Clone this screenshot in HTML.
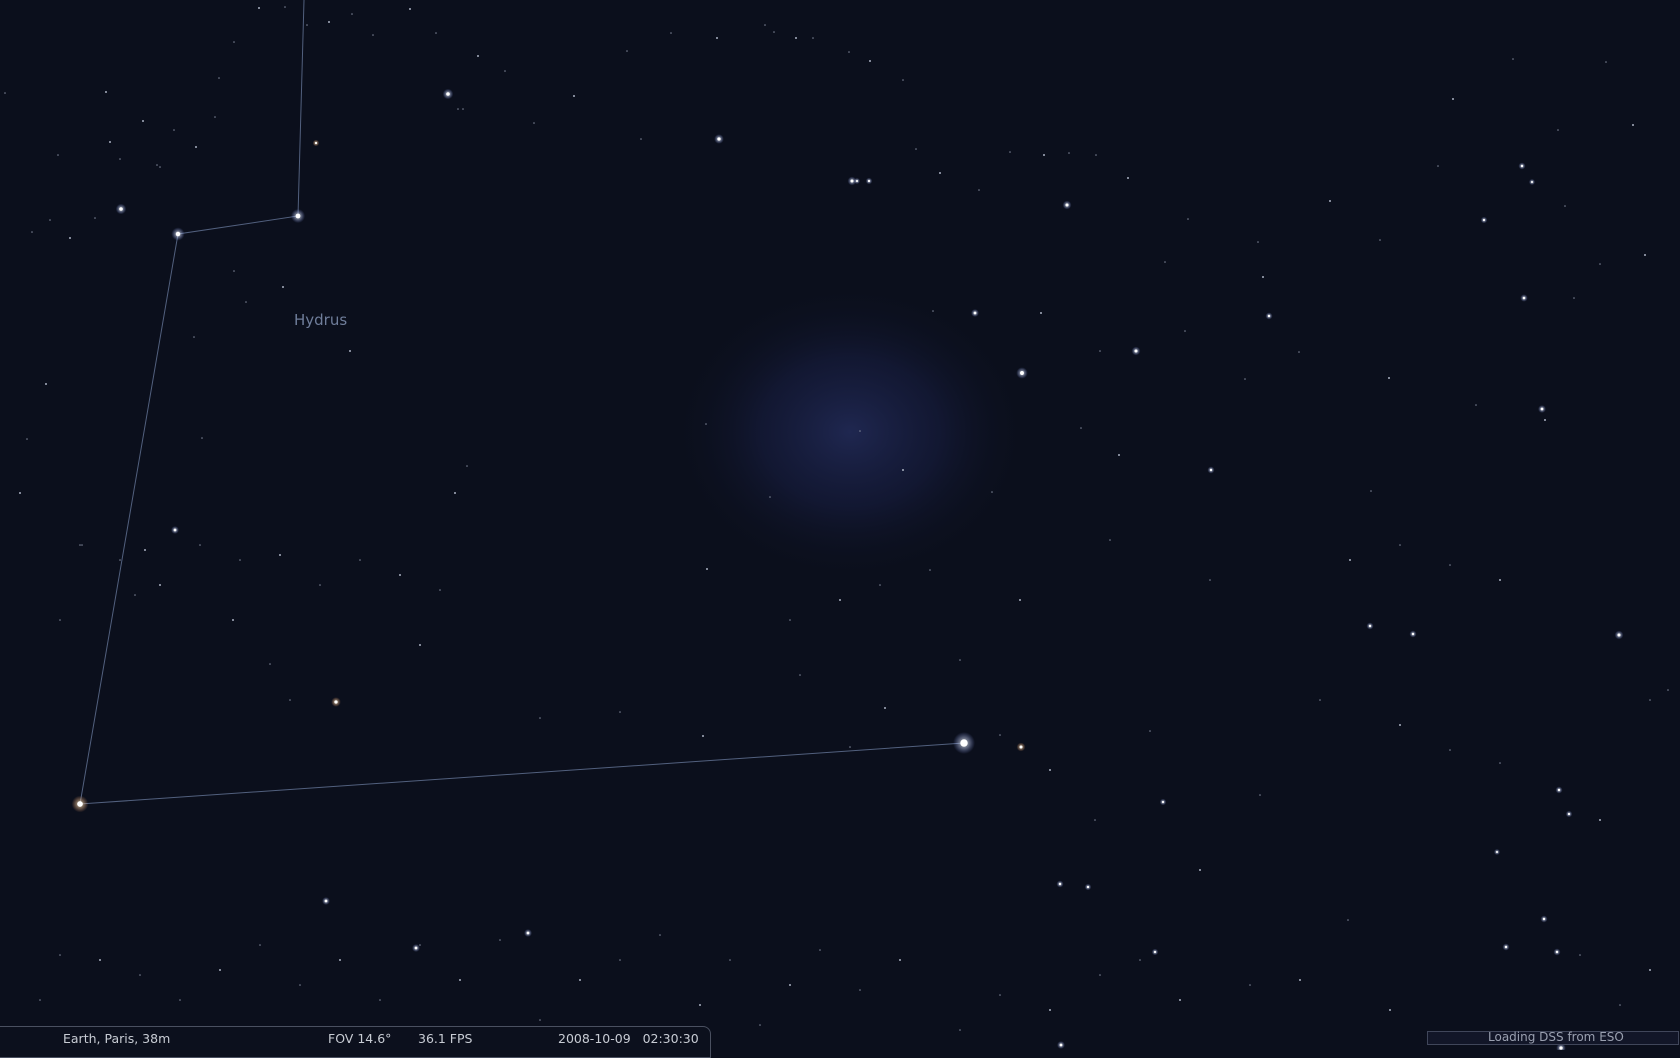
<!DOCTYPE html>
<html><head><meta charset="utf-8"><style>
html,body{margin:0;padding:0;width:1680px;height:1050px;overflow:hidden;background:#0b0f1c;font-family:"DejaVu Sans","Liberation Sans",sans-serif}
svg{position:absolute;left:0;top:0}
.bar{position:absolute;left:-2px;top:1026px;width:711px;height:30px;border:1px solid #4a5060;border-top-right-radius:8px;background:#0c101d}
.t{position:absolute;top:1031px;color:#c8ccd4;font-size:12.5px}
.load{position:absolute;left:1427px;top:1031px;width:250px;height:12px;border:1px solid #40465a;background:#121628;color:#9aa0b0;font-size:12px;line-height:12px}
</style></head><body>
<svg width="1680" height="1050">
<defs>
<radialGradient id="neb" cx="0.5" cy="0.5" r="0.5"><stop offset="0" stop-color="#1f2750" stop-opacity="1"/><stop offset="0.5" stop-color="#171d40" stop-opacity="0.6"/><stop offset="1" stop-color="#0b0f1c" stop-opacity="0"/></radialGradient>
<radialGradient id="glow"><stop offset="0" stop-color="#fff"/><stop offset="0.4" stop-color="#dde6ff" stop-opacity="0.8"/><stop offset="1" stop-color="#8aa0ff" stop-opacity="0"/></radialGradient>
<radialGradient id="glowo"><stop offset="0" stop-color="#fff"/><stop offset="0.4" stop-color="#ffd8a8" stop-opacity="0.8"/><stop offset="1" stop-color="#ffa060" stop-opacity="0"/></radialGradient>
</defs>
<ellipse cx="850" cy="432" rx="180" ry="150" fill="url(#neb)"/>
<g stroke="#52607e" stroke-width="1" fill="none">
<polyline points="304,0 298,216 178,234 80,804 964,743"/>
</g>
<text x="294" y="325" fill="#6f7d9a" font-size="15" font-family="DejaVu Sans,sans-serif">Hydrus</text>
<g id="stars"></g>
</svg>
<div class="bar"></div>
<div class="t" style="left:63px">Earth, Paris, 38m</div>
<div class="t" style="left:328px">FOV 14.6°</div>
<div class="t" style="left:418px">36.1 FPS</div>
<div class="t" style="left:558px">2008-10-09&nbsp;&nbsp;&nbsp;02:30:30</div>
<div class="load"><span style="position:absolute;left:60px;top:-1px">Loading DSS from ESO</span></div>
<script>
const bx=[448,719,298,178,121,80,964,336,1022,852,869,1067,975,1136,1542,1619,1021,175,326,416,1061,1060,316,528,1524,1522,1413,1557,1561,1269,1211,1506,1544,1559,1484,1370,1155,1163,1088,1532,1497,1569,857];
const by=[94,139,216,234,209,804,743,702,373,181,181,205,313,351,409,635,747,530,901,948,1045,884,143,933,298,166,634,952,1048,316,470,947,919,790,220,626,952,802,887,182,852,814,181];
const br=[2.4,2.2,3.2,3,2.4,3.8,5,2.2,2.6,2,1.5,2,1.8,2,1.8,2,2,1.8,1.8,1.8,1.8,1.6,1.5,1.8,1.7,1.6,1.6,1.6,2.2,1.6,1.6,1.6,1.6,1.6,1.5,1.6,1.5,1.5,1.5,1.4,1.4,1.5,1.4];
const bc=[0,0,0,0,0,1,0,1,0,0,0,0,0,0,0,0,1,0,0,0,0,0,1,0,0,0,0,0,0,0,0,0,0,0,0,0,0,0,0,0,0,0,0];
const fx=[110,5,219,106,157,58,46,194,234,283,246,202,145,27,82,350,458,467,455,641,706,707,770,860,903,933,992,1041,1081,1100,1119,1165,1185,1263,1245,1299,1389,1371,1476,1545,1574,1600,1645,1558,1438,1453,1513,1606,1633,1565,1380,1330,1258,1188,1128,1096,1069,1044,1010,979,940,916,903,870,849,813,796,774,765,717,671,627,574,534,505,478,463,436,410,373,352,329,307,285,259,234,215,196,174,160,143,120,95,70,50,32,20,60,135,233,270,290,420,540,620,703,800,850,885,960,1000,1050,1095,1150,1200,1260,1320,1400,1450,1500,1600,1650,1668,1390,1348,1250,1180,1140,1100,1050,1000,960,900,860,820,790,760,730,700,660,620,580,540,500,460,420,380,340,300,260,220,180,140,100,60,40,1650,1620,1580,1300,1210,1110,1020,930,880,840,790,440,400,360,320,280,240,200,160,120,80,1500,1450,1400,1350];
const fy=[142,93,78,92,165,155,384,337,271,287,302,438,550,439,545,351,109,466,493,139,424,569,497,431,470,311,492,313,428,351,455,262,331,277,379,352,378,491,405,420,298,264,255,130,166,99,59,62,125,206,240,201,242,219,178,155,153,155,152,190,173,149,80,61,52,38,38,32,25,38,33,51,96,123,71,56,109,33,9,35,14,22,25,7,8,42,117,147,130,167,121,159,218,238,220,232,493,620,595,620,664,700,645,718,712,736,675,747,708,660,735,770,820,731,870,795,700,725,750,763,820,700,690,1010,920,985,1000,960,975,1010,995,1030,960,990,950,985,1025,960,1005,935,960,980,1020,940,980,945,1000,960,985,945,970,1000,975,960,955,1000,970,1005,955,980,580,540,600,570,585,600,620,590,575,560,585,555,560,545,585,560,545,580,565,545,560,520,540,560,500];
const g=document.getElementById('stars');
const NS='http://www.w3.org/2000/svg';
for(let i=0;i<fx.length;i++){const c=document.createElementNS(NS,'circle');


c.setAttribute('cx',fx[i]);c.setAttribute('cy',fy[i]);c.setAttribute('r',i%3?0.8:1);c.setAttribute('fill',i%3?'#7d8496':'#a9b0c0');g.appendChild(c);}
for(let i=0;i<bx.length;i++){const h=document.createElementNS(NS,'circle');


h.setAttribute('cx',bx[i]);h.setAttribute('cy',by[i]);h.setAttribute('r',br[i]*2.2);h.setAttribute('fill',bc[i]?'url(#glowo)':'url(#glow)');h.setAttribute('opacity',0.6);g.appendChild(h);
const c=document.createElementNS(NS,'circle');


c.setAttribute('cx',bx[i]);c.setAttribute('cy',by[i]);c.setAttribute('r',br[i]*0.75);c.setAttribute('fill','#ffffff');g.appendChild(c);}
</script>
</body></html>
